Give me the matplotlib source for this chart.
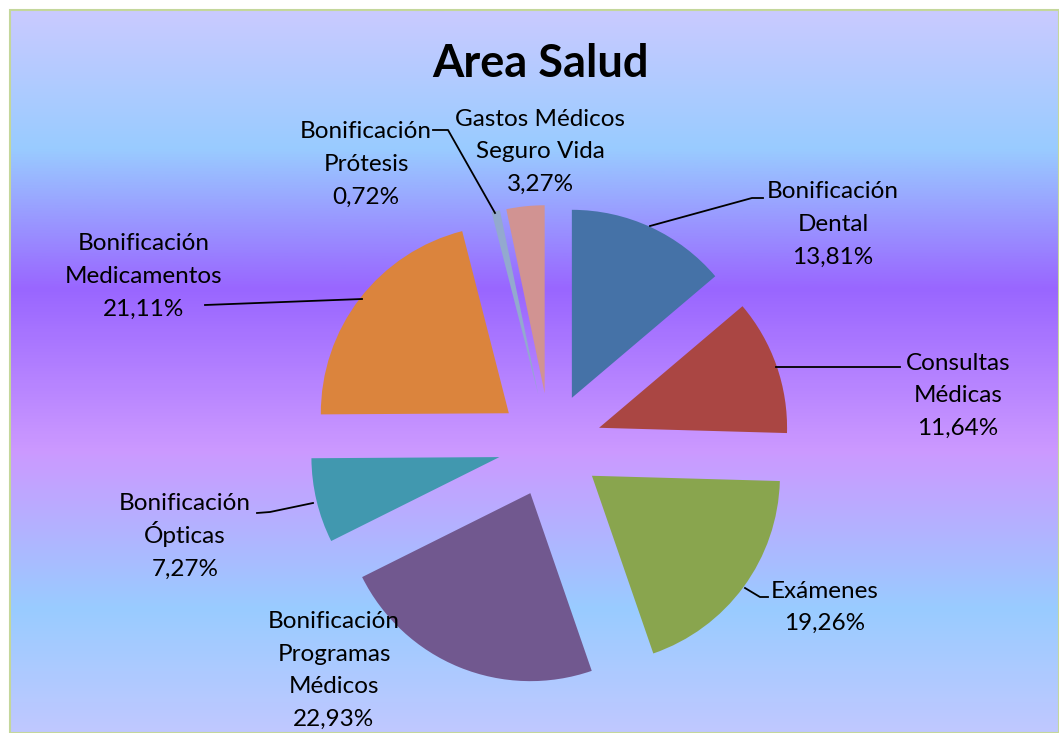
import matplotlib
matplotlib.use('Agg')
import matplotlib.pyplot as plt
import numpy as np
from matplotlib.colors import LinearSegmentedColormap
from matplotlib.patches import Rectangle

W, H = 1059, 733

categories = ['Bonificación\nDental', 'Consultas\nMédicas', 'Exámenes',
              'Bonificación\nProgramas\nMédicos', 'Bonificación\nÓpticas',
              'Bonificación\nMedicamentos', 'Bonificación\nPrótesis',
              'Gastos Médicos\nSeguro Vida']
values = [13.81, 11.64, 19.26, 22.93, 7.27, 21.11, 0.72, 3.27]
colors = ['#4572A7', '#AA4643', '#89A54E', '#71588F', '#4198AF',
          '#DB843D', '#93A9CF', '#D19392']

# label centres (pixels from top-left)
label_pos = [(833, 223), (958, 394), (825, 606), (334, 669), (185, 535),
             (144, 275), (366, 163), (540, 150)]
# leader lines (pixels from top-left)
leaders = [
    [(650, 226), (752, 198), (763, 198)],
    [(776, 367), (900, 367)],
    [(745, 588), (760, 597), (768, 597)],
    [(362, 299), (205, 305)],
    [(313, 503), (270, 512), (257, 513)],
    [(495, 213), (448, 130), (433, 130)],
]

plt.rcParams['font.family'] = ['Lato', 'DejaVu Sans']

fig = plt.figure(figsize=(W / 100, H / 100), dpi=100)
ax = fig.add_axes([0, 0, 1, 1])

# background gradient
stops = [(0.0, '#cacaff'), (0.19, '#99ccff'), (0.385, '#9966ff'),
         (0.61, '#cc99ff'), (0.83, '#99ccff'), (1.0, '#c0c8ff')]
cmap = LinearSegmentedColormap.from_list('bg', stops)
grad = np.linspace(0, 1, 512).reshape(-1, 1)
ax.imshow(grad, cmap=cmap, aspect='auto', extent=(10, W, 0, H - 10),
          origin='upper', zorder=0)
ax.add_patch(Rectangle((10, 0), W - 10, H - 10, fill=False,
                       edgecolor='#c4d79b', lw=1.5, zorder=1))

ax.pie(values, colors=colors, startangle=90, counterclock=False,
       explode=[52] * len(values), radius=188, center=(550, H - 445),
       wedgeprops=dict(linewidth=0), frame=True)

# one text per line so accents do not stretch the spacing
line_h = 32.5
for cat, v, (x, y) in zip(categories, values, label_pos):
    lines = cat.split('\n') + [f'{v:.2f}'.replace('.', ',') + '%']
    n = len(lines)
    for i, s in enumerate(lines):
        yc = y + (i - (n - 1) / 2) * line_h
        ax.text(x, H - (yc + 8), s, ha='center', va='baseline',
                fontsize=17.5, color='black', zorder=5)

for pts in leaders:
    xs = [p[0] for p in pts]
    ys = [H - p[1] for p in pts]
    ax.plot(xs, ys, color='black', lw=1.3, zorder=4)

ax.text(541, H - 64, 'Area Salud', ha='center', va='center',
        fontsize=32.5, fontweight='bold', zorder=5)

ax.set_xlim(0, W)
ax.set_ylim(0, H)
ax.axis('off')
fig.savefig('out.png', dpi=100, facecolor='white')
